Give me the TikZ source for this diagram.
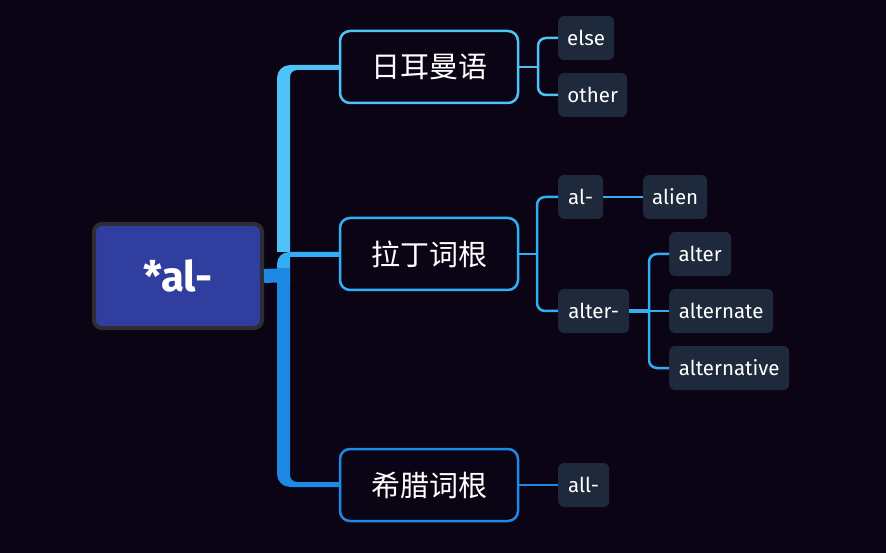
\documentclass[tikz,border=0pt]{standalone}
\usepackage{fontspec}
\setmainfont{Fira Sans}
\newfontfamily\cjk{Noto Sans CJK SC}
\definecolor{bg}{HTML}{0A0415}
\definecolor{cA}{HTML}{4FC3F7}
\definecolor{cB}{HTML}{33AEF4}
\definecolor{cC}{HTML}{1E88E5}
\definecolor{rootfill}{HTML}{303F9F}
\definecolor{rootline}{HTML}{2E2D33}
\definecolor{leaffill}{HTML}{1E293B}
\tikzset{
  rootbox/.style={draw=rootline, line width=4pt, fill=rootfill, rounded corners=8pt,
    minimum width=168pt, minimum height=104pt, inner sep=0pt, text=white,
    font=\fontsize{42}{48}\selectfont\bfseries},
  midbox/.style={line width=2.5pt, fill=bg, rounded corners=10pt,
    minimum width=178pt, minimum height=72pt, inner sep=0pt, text=white,
    font=\cjk\fontsize{29}{34}\selectfont},
  leaf/.style={fill=leaffill, rounded corners=6pt, minimum height=44pt,
    inner sep=0pt, text=white, font=\fontsize{20.5}{24}\selectfont},
  thin/.style={line width=2.5pt, rounded corners=8pt},
}
\begin{document}
\begin{tikzpicture}[x=1pt,y=-1pt]
\useasboundingbox[fill=bg] (0,0) rectangle (886,553);

% trunk shapes
\fill[cA] (277,252) -- (277,78) arc[start angle=180,end angle=270,radius=13]
  -- (340,65) -- (340,70) -- (297,70) arc[start angle=270,end angle=180,radius=7]
  -- (290,252) -- cycle;
\fill[cB] (277,270) -- (277,264) arc[start angle=180,end angle=270,radius=12]
  -- (340,252) -- (340,257) -- (290,257) -- (290,270) -- cycle;
\fill[cC] (277,268) -- (277,474) arc[start angle=180,end angle=90,radius=13]
  -- (340,487) -- (340,482) -- (297,482) arc[start angle=90,end angle=180,radius=7]
  -- (290,268) -- cycle;

% nodes
\node[rootbox] (root) at (178,276) {*al-};
\node[midbox, draw=cA] (g1) at (429,67) {日耳曼语};
\node[midbox, draw=cB] (g2) at (429,254) {拉丁词根};
\node[midbox, draw=cC] (g3) at (429,485) {希腊词根};

\node[leaf, minimum width=56pt, anchor=west] (else) at (558,38) {else};
\node[leaf, minimum width=69pt, anchor=west] (other) at (558,95) {other};
\node[leaf, minimum width=45pt, anchor=west] (al) at (558,197) {al-};
\node[leaf, minimum width=64pt, anchor=west] (alien) at (643,197) {alien};
\node[leaf, minimum width=71pt, anchor=west] (alterm) at (558,311) {alter-};
\node[leaf, minimum width=62pt, anchor=west] (alter) at (669,254) {alter};
\node[leaf, minimum width=104pt, anchor=west] (alternate) at (669,311) {alternate};
\node[leaf, minimum width=120pt, anchor=west] (alternative) at (669,368) {alternative};
\node[leaf, minimum width=51pt, anchor=west] (all) at (558,485) {all-};

% root connector
\coordinate (tr) at (290,275);
\draw[cC, line width=14pt] (root.east) -- (tr);

% sub connectors
\coordinate (j1) at (538,67);
\draw[cA, thin] (g1.east) -- (j1);
\draw[cA, thin] (j1) |- (else.west);
\draw[cA, thin] (j1) |- (other.west);

\coordinate (j2) at (537,254);
\draw[cB, thin] (g2.east) -- (j2);
\draw[cB, thin] (j2) |- (al.west);
\draw[cB, thin] (j2) |- (alterm.west);
\draw[cB, thin] (al.east) -- (alien.west);

\coordinate (j3) at (649,311);
\draw[cB, line width=4pt] (alterm.east) -- (j3);
\draw[cB, thin] (j3) |- (alter.west);
\draw[cB, thin] (j3) -- (alternate.west);
\draw[cB, thin] (j3) |- (alternative.west);

\draw[cC, thin] (g3.east) -- (all.west);
\end{tikzpicture}
\end{document}
